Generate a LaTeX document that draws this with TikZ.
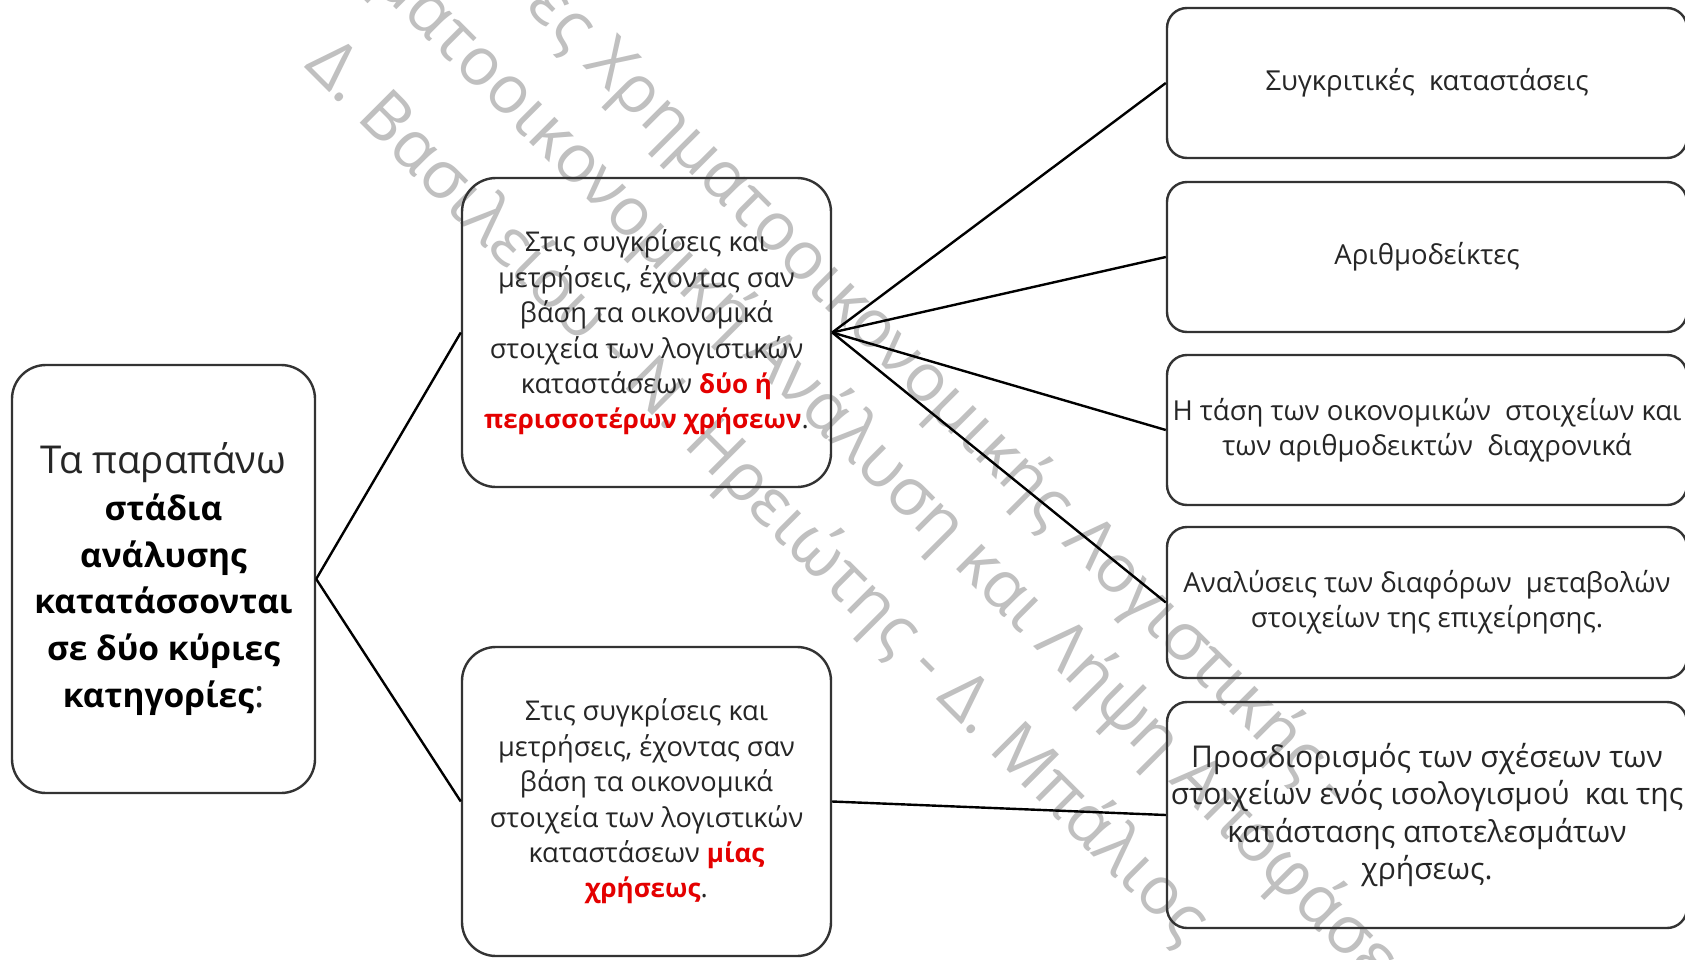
\documentclass[tikz,border=0pt]{standalone}
\usepackage{fontspec}
\setmainfont{Open Sans}
\newfontfamily\wmfont{Open Sans}
\definecolor{hot}{RGB}{228,0,0}
\definecolor{wmgray}{RGB}{192,192,192}
\definecolor{ink}{RGB}{38,38,38}
\newcommand{\hot}[1]{{\color{hot}\bfseries\fontsize{26}{35.4}\selectfont #1}}
\newcommand{\boldline}[1]{{\color{black}\bfseries\fontsize{33.5}{46.8}\selectfont #1}}

\begin{document}
\begin{tikzpicture}[x=1pt,y=-1pt,
  box/.style={draw=black!80,line width=2.4pt,rounded corners=34pt,align=center,inner sep=0pt,text=ink},
  leftbox/.style={box,minimum width=303pt,minimum height=428pt,font=\fontsize{38.4}{46.8}\selectfont},
  midbox/.style={box,minimum width=369pt,minimum height=309pt,font=\fontsize{27.2}{35.4}\selectfont},
  rightbox/.style={box,rounded corners=20pt,minimum width=520pt,font=\fontsize{27.5}{35}\selectfont},
  wm/.style={text=wmgray,font=\wmfont\fontsize{67}{67}\selectfont,inner sep=0pt,anchor=west,rotate=-45},
  link/.style={line width=2.4pt}]
 \useasboundingbox (0,0) rectangle (1685,960);
 \clip (0,0) rectangle (1685,960);
 \fill[white] (0,0) rectangle (1685,960);
 \node[wm] (wmA) at (538,-6) {ές Χρηματοοικονομικής Λογιστικής -};
 \node[wm] (wmB) at (300,-114) {Χρηματοοικονομική Ανάλυση και Λήψη Αποφάσεων};
 \node[wm] (wmC) at (317,53) {Δ. Βασιλείου - Ν. Ηρειώτης - Δ. Μπάλιος};
 \node[leftbox] (stages) at (163.5,579) {Τα παραπάνω\\ \boldline{στάδια}\\ \boldline{ανάλυσης}\\ \boldline{κατατάσσονται}\\ \boldline{σε δύο κύριες}\\ \boldline{κατηγορίες}:};
 \node[midbox] (many) at (646.5,332.5) {Στις συγκρίσεις και\\ μετρήσεις, έχοντας σαν\\ βάση τα οικονομικά\\ στοιχεία των λογιστικών\\ καταστάσεων \hot{δύο ή}\\ \hot{περισσοτέρων χρήσεων}.};
 \node[midbox] (one) at (646.5,801.5) {Στις συγκρίσεις και\\ μετρήσεις, έχοντας σαν\\ βάση τα οικονομικά\\ στοιχεία των λογιστικών\\ καταστάσεων \hot{μίας}\\ \hot{χρήσεως}.};
 \node[rightbox,minimum height=150pt] (comp) at (1427,83) {Συγκριτικές\ \ καταστάσεις};
 \node[rightbox,minimum height=150pt] (ratio) at (1427,257) {Αριθμοδείκτες};
 \node[rightbox,minimum height=150pt] (trend) at (1427,430) {Η τάση των οικονομικών\ \ στοιχείων και\\ των αριθμοδεικτών\ \ διαχρονικά};
 \node[rightbox,minimum height=151pt] (change) at (1427,602.5) {Αναλύσεις των διαφόρων\ \ μεταβολών\\ στοιχείων της επιχείρησης.};
 \node[rightbox,minimum height=226pt,font=\fontsize{30}{37.6}\selectfont] (rel) at (1427,815) {Προσδιορισμός των σχέσεων των\\ στοιχείων ενός ισολογισμού\ \ και της\\ κατάστασης αποτελεσμάτων\\ χρήσεως.};
 \draw[link] (stages.east) -- (many.west);
 \draw[link] (stages.east) -- (one.west);
 \draw[link] (many.east) -- (comp.west);
 \draw[link] (many.east) -- (ratio.west);
 \draw[link] (many.east) -- (trend.west);
 \draw[link] (many.east) -- (change.west);
 \draw[link] (one.east) -- (rel.west);
\end{tikzpicture}
\end{document}
